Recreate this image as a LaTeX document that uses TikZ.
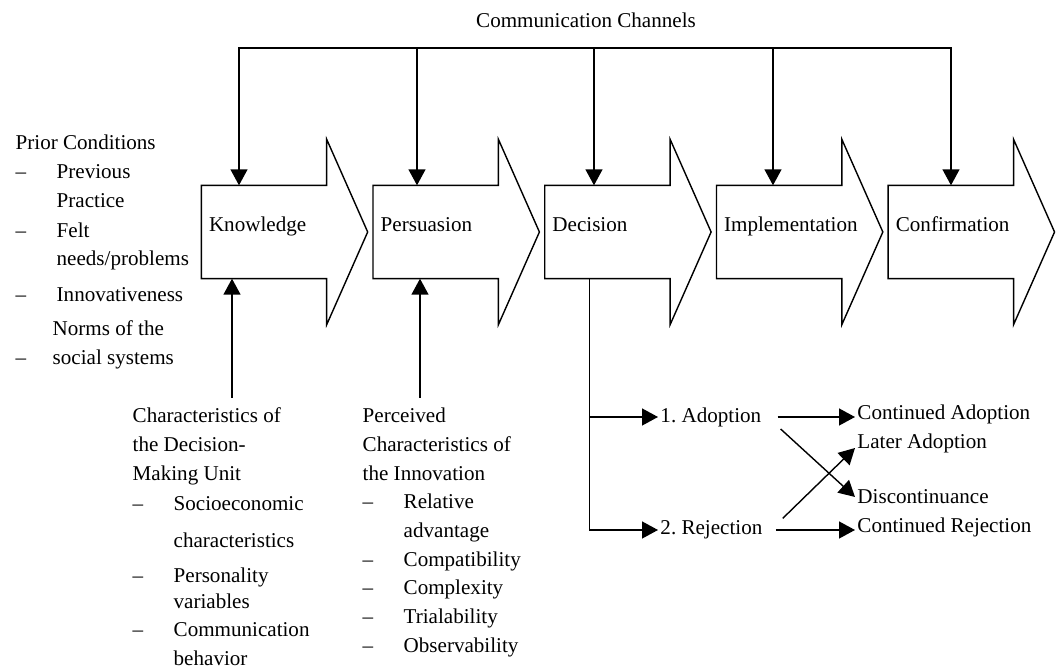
\documentclass[tikz,border=0pt]{standalone}
\usepackage{fontspec}
\setmainfont{Liberation Serif}
\usetikzlibrary{arrows.meta,positioning,calc}

\tikzset{
  stage/.style={minimum width=2.48cm, minimum height=1.84cm, inner sep=0pt},
  stagetext/.style={anchor=base west, inner sep=0.14cm},
  outcome/.style={anchor=west, inner sep=1pt},
  block/.style={anchor=base west, inner sep=0pt},
}

\begin{document}
\begin{tikzpicture}[x=0.02cm,y=-0.02cm,thick,>={Triangle[length=0.32cm,width=0.34cm]},node distance=3.435cm,on grid,font=\fontsize{12}{16.3}\selectfont]
                \useasboundingbox (0,0) rectangle (1056,668);

                % stages of the process
                \node[stage,label={[stagetext]west:Knowledge}] (know) at (264,232) {};
                \node[stage,label={[stagetext]west:Persuasion}] (pers) [right=of know] {};
                \node[stage,label={[stagetext]west:Decision}] (deci) [right=of pers] {};
                \node[stage,label={[stagetext]west:Implementation}] (impl) [right=of deci] {};
                \node[stage,label={[stagetext]west:Confirmation}] (conf) [right=of impl] {};
                \foreach \s in {know,pers,deci,impl,conf}
                    \draw (\s.south west) -- (\s.north west) -- (\s.north east) -- ($(\s.north east)+(0,-46)$)
                          -- ($(\s.east)+(41,0)$) -- ($(\s.south east)+(0,46)$) -- (\s.south east) -- cycle;

                % communication channels
                \node[anchor=base] (chan) at (586,28) {Communication Channels};
                \foreach \s/\x in {know/239,pers/417,deci/594,impl/773,conf/951} {
                    \coordinate (bar-\s) at (\x,48);
                    \draw[->] (bar-\s) -- (bar-\s |- \s.north);
                }
                \draw[line cap=rect] (bar-know) -- (bar-conf);

                % prior conditions
                \node[block] (prior) at (15,150) {\begin{tabular}[t]{@{}p{0.82cm}@{}l@{}}
                    \multicolumn{2}{@{}l@{}}{Prior Conditions}\\
                    \textendash & Previous\\
                                & Practice\\[0.8pt]
                    \textendash & Felt\\
                                & needs/problems\\[4.2pt]
                    \textendash & Innovativeness\\[3pt]
                                & \hspace*{-0.08cm}Norms of the\\
                    \textendash & \hspace*{-0.08cm}social systems
                \end{tabular}};

                % decision-making unit
                \node[block] (dmu) at (132,423) {\begin{tabular}[t]{@{}p{0.82cm}@{}l@{}}
                    \multicolumn{2}{@{}l@{}}{Characteristics of}\\
                    \multicolumn{2}{@{}l@{}}{the Decision-}\\
                    \multicolumn{2}{@{}l@{}}{Making Unit}\\[0.8pt]
                    \textendash & Socioeconomic\\[4.8pt]
                                & characteristics\\[3.6pt]
                    \textendash & Personality\\[-1.5pt]
                                & variables\\
                    \textendash & Communication\\
                                & behavior
                \end{tabular}};

                % perceived characteristics
                \node[block] (innov) at (362,423) {\begin{tabular}[t]{@{}p{0.82cm}@{}l@{}}
                    \multicolumn{2}{@{}l@{}}{Perceived}\\
                    \multicolumn{2}{@{}l@{}}{Characteristics of}\\
                    \multicolumn{2}{@{}l@{}}{the Innovation}\\
                    \textendash & Relative\\
                                & advantage\\
                    \textendash & Compatibility\\
                    \textendash & Complexity\\
                    \textendash & Trialability\\
                    \textendash & Observability
                \end{tabular}};

                \coordinate (in-know) at (232,398);
                \coordinate (in-pers) at (420,398);
                \draw[->] (in-know) -- (in-know |- know.south);
                \draw[->] (in-pers) -- (in-pers |- pers.south);

                % decision outcomes
                \coordinate (split) at ($(deci.south west)+(45,0)$);
                \node[outcome] (adopt) at (658,417) {1.\ Adoption};
                \node[outcome] (reject) at (658,530) {2.\ Rejection};
                \node[outcome] (cadopt) at (855,414) {Continued Adoption};
                \node[outcome] (later) at (855,443) {Later Adoption};
                \node[outcome] (disc) at (855,497) {Discontinuance};
                \node[outcome] (crej) at (855,527) {Continued Rejection};

                \draw[->] (split) |- (adopt.west);
                \draw[->] (split) |- (reject.west);
                \draw[->] ([xshift=0.28cm]adopt.east) -- (adopt.east -| cadopt.west);
                \draw[->] ([xshift=0.34cm]adopt.south east) -- (disc.west);
                \draw[->] ([xshift=0.36cm]reject.north east) -- ([yshift=-0.1cm]later.west);
                \draw[->] ([xshift=0.22cm]reject.east) -- (reject.east -| crej.west);
\end{tikzpicture}
\end{document}
